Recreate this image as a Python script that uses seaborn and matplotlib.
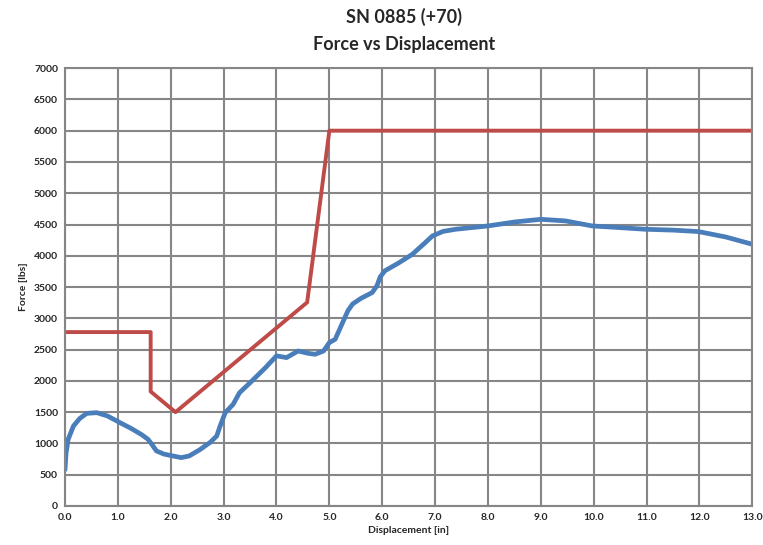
import numpy as np
import pandas as pd
import seaborn as sns
import matplotlib.pyplot as plt
from matplotlib.ticker import MultipleLocator, FormatStrFormatter

# blue measured curve
disp = [0.0, 0.02, 0.06, 0.16, 0.28, 0.41, 0.6, 0.8, 1.04, 1.25, 1.45, 1.57, 1.63,
        1.73, 1.87, 2.04, 2.2, 2.35, 2.55, 2.75, 2.87, 2.93, 3.03, 3.18, 3.3, 3.5,
        3.79, 4.0, 4.19, 4.41, 4.6, 4.73, 4.89, 5.0, 5.11, 5.25, 5.35, 5.44, 5.6, 5.81,
        5.9, 5.96, 6.05, 6.3, 6.57, 6.8, 6.95, 7.15, 7.39, 8.0, 8.5, 9.0, 9.47, 9.97,
        10.5, 10.97, 11.5, 11.98, 12.5, 13.0]
force = [580, 850, 1066, 1279, 1400, 1480, 1492, 1440, 1332, 1240, 1140, 1066, 1000,
         879, 830, 800, 773, 800, 900, 1020, 1119, 1270, 1492, 1625, 1810, 1970,
         2210, 2400, 2372, 2478, 2440, 2425, 2478, 2612, 2665, 2930, 3120, 3230, 3320,
         3412, 3520, 3660, 3760, 3880, 4024, 4200, 4317, 4390, 4424, 4477, 4540, 4583,
         4557, 4477, 4450, 4424, 4410, 4387, 4300, 4184]

# red limit line
lim_x = [0.0, 1.62, 1.62, 2.09, 4.58, 5.0, 13.0]
lim_y = [2780, 2780, 1830, 1500, 3255, 6000, 6000]

sns.set_style("white")
plt.rcParams['font.family'] = ['Lato', 'DejaVu Sans']
fig = plt.figure(figsize=(7.63, 5.45), dpi=100)
ax = fig.add_axes([0.0852, 0.0716, 0.9008, 0.8034])

grid_c = "#868686"
ax.set_axisbelow(True)
ax.grid(True, color=grid_c, linewidth=1.5)

sns.lineplot(x=lim_x, y=lim_y, estimator=None, sort=False, color="#be4b48",
             linewidth=2.8, ax=ax)
sns.lineplot(x=disp, y=force, estimator=None, sort=False, color="#4a7ebb",
             linewidth=3.4, ax=ax)

ax.set_xlim(0, 13)
ax.set_ylim(0, 7000)
ax.xaxis.set_major_locator(MultipleLocator(1))
ax.yaxis.set_major_locator(MultipleLocator(500))
ax.xaxis.set_major_formatter(FormatStrFormatter("%.1f"))
for s in ax.spines.values():
    s.set_color(grid_c)
    s.set_linewidth(1.5)
ax.tick_params(axis="both", labelsize=7.5, length=3, color=grid_c, width=1, pad=2)
for lab in ax.get_xticklabels() + ax.get_yticklabels():
    lab.set_fontweight("bold")

ax.set_xlabel("Displacement [in]", fontsize=7.5, fontweight="bold", labelpad=3)
ax.set_ylabel("Force [lbs]", fontsize=7.5, fontweight="bold", labelpad=4)
fig.text(0.53, 0.968, "SN 0885 (+70)", ha="center", va="center",
         fontsize=13, fontweight="bold")
fig.text(0.53, 0.919, "Force vs Displacement", ha="center", va="center",
         fontsize=13, fontweight="bold")

fig.savefig("out.png", dpi=100, facecolor="white")
